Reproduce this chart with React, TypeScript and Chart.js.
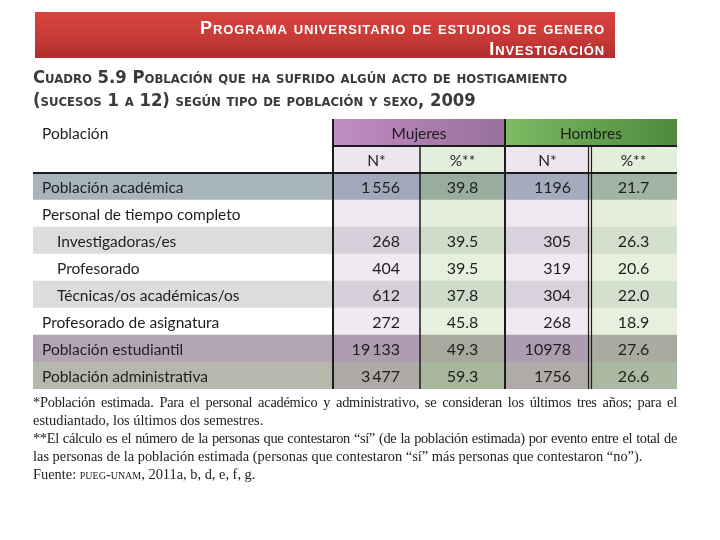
import React, { useEffect, useRef } from 'react';
import { Chart, registerables } from 'chart.js';

Chart.register(...registerables);

// ---------- Data ----------
const bannerLines = ['Programa universitario de estudios de genero', 'Investigación'];
const titleLines = [
  'Cuadro 5.9 Población que ha sufrido algún acto de hostigamiento',
  '(sucesos 1 a 12) según tipo de población y sexo, 2009',
];
const populationHeader = 'Población';
const groupHeaders = ['Mujeres', 'Hombres'];
const subHeaders = ['N*', '%**'];
const categories = [
  'Población académica',
  'Personal de tiempo completo',
  'Investigadoras/es',
  'Profesorado',
  'Técnicas/os académicas/os',
  'Profesorado de asignatura',
  'Población estudiantil',
  'Población administrativa',
];
const indented = [false, false, true, true, true, false, false, false];
const mujeresN: (number | null)[] = [1556, null, 268, 404, 612, 272, 19133, 3477];
const mujeresPct: (number | null)[] = [39.8, null, 39.5, 39.5, 37.8, 45.8, 49.3, 59.3];
const hombresN: (number | null)[] = [1196, null, 305, 319, 304, 268, 10978, 1756];
const hombresPct: (number | null)[] = [21.7, null, 26.3, 20.6, 22.0, 18.9, 27.6, 26.6];
const footnoteLines = [
  '*Población estimada. Para el personal académico y administrativo, se consideran los últimos tres años; para el',
  'estudiantado, los últimos dos semestres.',
  '**El cálculo es el número de la personas que contestaron “sí” (de la población estimada) por evento entre el total de',
  'las personas de la población estimada (personas que contestaron “sí” más personas que contestaron “no”).',
];
const sourceLabel = ['Fuente: ', 'pueg-unam', ', 2011a, b, d, e, f, g.'];

// ---------- Layout / style ----------
const colWidths = [300, 87, 85, 85, 87];
const colEdges = colWidths.reduce((acc, w) => [...acc, acc[acc.length - 1] + w], [0] as number[]);
const rowKeys = ['h1', 'h2', ...categories];

const palette: string[][] = [
  ['#ffffff', 'MUJ', '#ffffff', 'HOM', '#ffffff'],
  ['#ffffff', '#ece6ef', '#e4eedc', '#ece6ef', '#e4eedc'],
  ['#a8b4bc', '#a0a8ba', '#99ad9f', '#a4abbd', '#a1b4a4'],
  ['#ffffff', '#eee8f0', '#e6efdd', '#eee8f0', '#e6efdd'],
  ['#dcdcdf', '#d7d0da', '#d0dcca', '#d9d2dc', '#d4dfce'],
  ['#ffffff', '#efe9f1', '#e7f0de', '#efe9f1', '#e7f0de'],
  ['#dcdcdf', '#d7d0da', '#d0dcca', '#d9d2dc', '#d4dfce'],
  ['#ffffff', '#efe9f1', '#e7f0de', '#efe9f1', '#e7f0de'],
  ['#b3a4b5', '#ad9bb0', '#a8a99f', '#ad9db0', '#a9ab9f'],
  ['#b6b8ab', '#afa9a7', '#a7b89d', '#b0aba8', '#aabaa0'],
];

const TEXT_FONT = '"Lato", "Noto Sans", sans-serif';

function fmtGrouped(v: number) {
  const s = String(v);
  if (v < 1000) return s;
  return s.slice(0, s.length - 3) + '\u2009' + s.slice(s.length - 3);
}

function cellRange(row: number, col: number): [number, number] | null {
  if (row === 0) {
    if (col === 0) return [colEdges[0], colEdges[1]];
    if (col === 1) return [colEdges[1], colEdges[3]];
    if (col === 3) return [colEdges[3], colEdges[5]];
    return null;
  }
  return [colEdges[col], colEdges[col + 1]];
}

const tablePlugin = {
  id: 'tableText',
  afterDatasetsDraw(chart: any) {
    const ctx: CanvasRenderingContext2D = chart.ctx;
    const xs = chart.scales.x;
    const ys = chart.scales.y;
    const ca = chart.chartArea;
    const rowH = ys.getPixelForValue(1) - ys.getPixelForValue(0);
    const rowTop = (i: number) => ys.getPixelForValue(i) - rowH / 2;
    const ex = (i: number) => xs.getPixelForValue(colEdges[i]);
    ctx.save();
    ctx.strokeStyle = '#1c1c1c';
    const line = (x1: number, y1: number, x2: number, y2: number, w: number) => {
      ctx.lineWidth = w;
      ctx.beginPath();
      ctx.moveTo(x1, y1);
      ctx.lineTo(x2, y2);
      ctx.stroke();
    };
    line(ex(1), ca.top, ex(1), ca.bottom, 2);
    line(ex(3), ca.top, ex(3), ca.bottom, 2);
    line(ex(2), rowTop(1), ex(2), ca.bottom, 1.5);
    line(ex(4) - 1.5, rowTop(1), ex(4) - 1.5, ca.bottom, 1.2);
    line(ex(4) + 1.5, rowTop(1), ex(4) + 1.5, ca.bottom, 1.2);
    line(ex(1), rowTop(1), ca.right, rowTop(1), 2);
    line(ca.left, rowTop(2), ca.right, rowTop(2), 2);

    ctx.fillStyle = '#1e1e1e';
    ctx.textBaseline = 'middle';
    ctx.font = `15.5px ${TEXT_FONT}`;
    const center = (t: string, x: number, y: number) => {
      ctx.textAlign = 'center';
      ctx.fillText(t, x, y);
    };
    const right = (t: string, x: number, y: number) => {
      ctx.textAlign = 'right';
      ctx.fillText(t, x, y);
    };
    const left = (t: string, x: number, y: number) => {
      ctx.textAlign = 'left';
      ctx.fillText(t, x, y);
    };
    const yc = (i: number) => ys.getPixelForValue(i) + 1;
    // headers
    left(populationHeader, ca.left + 9, yc(0));
    center(groupHeaders[0], (ex(1) + ex(3)) / 2, yc(0));
    center(groupHeaders[1], (ex(3) + ex(5)) / 2, yc(0));
    for (let g = 0; g < 2; g++) {
      for (let s = 0; s < 2; s++) {
        const c = 1 + g * 2 + s;
        center(subHeaders[s], (ex(c) + ex(c + 1)) / 2, yc(1));
      }
    }
    ctx.font = `16px ${TEXT_FONT}`;
    categories.forEach((cat, i) => {
      const r = i + 2;
      ctx.font = `15.5px ${TEXT_FONT}`;
      left(cat, ca.left + (indented[i] ? 24 : 9), yc(r));
      ctx.font = `16px ${TEXT_FONT}`;
      const mn = mujeresN[i];
      const mp = mujeresPct[i];
      const hn = hombresN[i];
      const hp = hombresPct[i];
      if (mn != null) right(fmtGrouped(mn), ex(2) - 20, yc(r));
      if (mp != null) center(mp.toFixed(1), (ex(2) + ex(3)) / 2, yc(r));
      if (hn != null) right(String(hn), ex(4) - 19, yc(r));
      if (hp != null) center(hp.toFixed(1), (ex(4) + ex(5)) / 2, yc(r));
    });
    ctx.restore();
  },
};

export default function App() {
  const canvasRef = useRef<HTMLCanvasElement>(null);

  useEffect(() => {
    if (!canvasRef.current) return;
    const datasets = colWidths.map((_, col) => ({
      label: `col${col}`,
      data: rowKeys.map((_, row) => cellRange(row, col)),
      grouped: false,
      barPercentage: 1,
      categoryPercentage: 1,
      borderWidth: 0,
      backgroundColor: (c: any) => {
        const row = c.dataIndex;
        const col2 = c.datasetIndex;
        const key = palette[row]?.[col2] ?? '#ffffff';
        if (key === 'MUJ' || key === 'HOM') {
          const chart = c.chart;
          const xs = chart.scales?.x;
          if (!chart.chartArea || !xs) return key === 'MUJ' ? '#b07fb0' : '#65a250';
          const x0 = xs.getPixelForValue(key === 'MUJ' ? colEdges[1] : colEdges[3]);
          const x1 = xs.getPixelForValue(key === 'MUJ' ? colEdges[3] : colEdges[5]);
          const g = chart.ctx.createLinearGradient(x0, 0, x1, 0);
          if (key === 'MUJ') {
            g.addColorStop(0, '#c28cc4');
            g.addColorStop(1, '#98709a');
          } else {
            g.addColorStop(0, '#7cba63');
            g.addColorStop(1, '#4e8a3c');
          }
          return g;
        }
        return key;
      },
    }));
    const chart = new Chart(canvasRef.current, {
      type: 'bar',
      data: { labels: rowKeys, datasets },
      options: {
        indexAxis: 'y',
        responsive: false,
        animation: false,
        events: [],
        layout: { padding: { left: 33, right: 43, top: 119, bottom: 151 } },
        plugins: { legend: { display: false }, tooltip: { enabled: false }, title: { display: false } },
        scales: {
          x: { type: 'linear', min: 0, max: colEdges[colEdges.length - 1], display: false },
          y: { type: 'category', display: false, offset: true },
        },
      },
      plugins: [tablePlugin],
    } as any);
    return () => chart.destroy();
  }, []);

  const bannerFont = '"Liberation Sans", Arial, sans-serif';
  const titleFont = '"DejaVu Sans Condensed", "DejaVu Sans", sans-serif';
  const serif = '"Liberation Serif", "DejaVu Serif", serif';
  const footSpacing = [-0.25, 0, -0.35, 0];

  return (
    <div style={{ position: 'absolute', left: 0, top: 0, width: 720, height: 540, background: '#fff', overflow: 'hidden' }}>
      <canvas ref={canvasRef} width={720} height={540} style={{ position: 'absolute', left: 0, top: 0, display: 'block' }} />
      <div
        style={{
          position: 'absolute', left: 35, top: 12, width: 580, height: 46,
          background: 'linear-gradient(to bottom, #d8443f 0%, #c83a37 55%, #b02e2e 100%)',
        }}
      >
        {bannerLines.map((t, i) => (
          <div
            key={i}
            style={{
              position: 'absolute', right: 10, top: i === 0 ? 6 : 27,
              color: '#ffffff', fontFamily: bannerFont, fontWeight: 'bold', fontSize: 18,
              fontVariant: 'small-caps', letterSpacing: 0.9, lineHeight: '20px', whiteSpace: 'nowrap',
            }}
          >
            {t}
          </div>
        ))}
      </div>
      {titleLines.map((t, i) => (
        <div
          key={i}
          style={{
            position: 'absolute', left: 33, top: i === 0 ? 66 : 89,
            color: '#3a3a3a', fontFamily: titleFont, fontWeight: 'bold', fontSize: 18.3,
            fontVariant: 'small-caps', lineHeight: '22px', whiteSpace: 'nowrap',
          }}
        >
          {t}
        </div>
      ))}
      {footnoteLines.map((t, i) => (
        <div
          key={i}
          style={{
            position: 'absolute', left: 33, top: 393 + i * 18, width: 644,
            color: '#222', fontFamily: serif, fontSize: 14.4, lineHeight: '18px',
            letterSpacing: footSpacing[i],
            textAlign: i % 2 === 0 ? 'justify' : 'left', textAlignLast: i % 2 === 0 ? 'justify' : 'left',
            whiteSpace: 'nowrap',
          } as any}
        >
          {t}
        </div>
      ))}
      <div
        style={{
          position: 'absolute', left: 33, top: 393 + 4 * 18,
          color: '#222', fontFamily: serif, fontSize: 14.4, lineHeight: '18px', whiteSpace: 'nowrap',
        }}
      >
        {sourceLabel[0]}
        <span style={{ fontVariant: 'small-caps' }}>{sourceLabel[1]}</span>
        {sourceLabel[2]}
      </div>
    </div>
  );
}
